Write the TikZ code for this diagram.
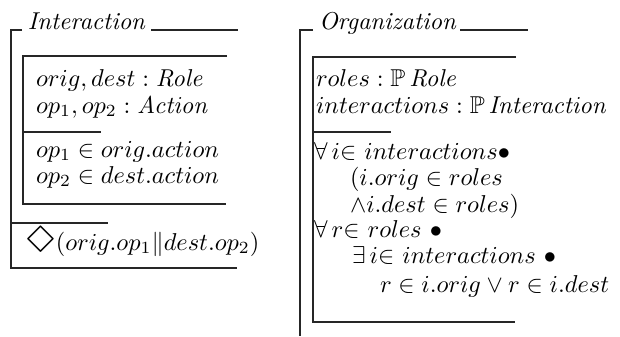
\documentclass[tikz,border=0pt]{standalone}
\usepackage{amssymb}
\usepackage{graphicx}
% the diamond of the lasy font, enlarged and centred on the math axis
\DeclareSymbolFont{lasysym}{U}{lasy}{m}{n}
\DeclareMathSymbol{\lasydiamond}{\mathord}{lasysym}{"33}
\newcommand{\eventually}{\mathord{\vcenter{\hbox{\scalebox{1.6}{$\lasydiamond$}}}}}
\begin{document}
\begin{tikzpicture}[x=0.41pt,y=-0.41pt,
  rule/.style={line width=0.45pt, black!85},
  txt/.style={anchor=base west, inner sep=0pt, outer sep=0pt}]
\useasboundingbox (0,0) rectangle (620,336);

% ---- class Interaction ----
\draw[rule] (22,30) -- (11,30) -- (11,268) -- (237,268);
\draw[rule] (151,30) -- (238,30);
\node[txt] (intTitle) at (28,29) {\textit{Interaction}};
% state schema
\draw[rule] (227,56) -- (23,56) -- (23,204) -- (226,204);
\draw[rule] (23,132) -- (101,132);
\node[txt] (intS1) at (36,86)  {$orig, dest : \mathit{Role}$};
\node[txt] (intS2) at (36,113) {$op_1, op_2 : \mathit{Action}$};
\node[txt] (intS3) at (36,157) {$op_1 \in orig.action$};
\node[txt] (intS4) at (36,183) {$op_2 \in dest.action$};
% history invariant
\draw[rule] (11,223) -- (108,223);
\node[txt] (intH) at (25,250) {$\eventually(orig.op_1\|dest.op_2)$};

% ---- class Organization ----
\draw[rule] (313,30) -- (300,30) -- (300,336);
\draw[rule] (460,30) -- (528,30);
\node[txt] (orgTitle) at (319,29) {\textit{Organization}};
% state schema
\draw[rule] (516,57) -- (313,57) -- (313,322) -- (515,322);
\draw[rule] (313,132) -- (391,132);
\node[txt] (orgS1) at (316,86)  {$roles : \mathbb{P}\,\mathit{Role}$};
\node[txt] (orgS2) at (316,113) {$interactions : \mathbb{P}\,\mathit{Interaction}$};
\node[txt] (orgP1) at (314,159) {$\forall\, i{\in}\ interactions\bullet$};
\node[txt] (orgP2) at (350,185) {$(i.orig \in roles$};
\node[txt] (orgP3) at (350,212) {$\wedge i.dest \in roles)$};
\node[txt] (orgP4) at (314,237) {$\forall\, r{\in}\ roles\ \bullet$};
\node[txt] (orgP5) at (352,263) {$\exists\, i{\in}\ interactions\ \bullet$};
\node[txt] (orgP6) at (380,292) {$r \in i.orig \vee r \in i.dest$};
\end{tikzpicture}
\end{document}
